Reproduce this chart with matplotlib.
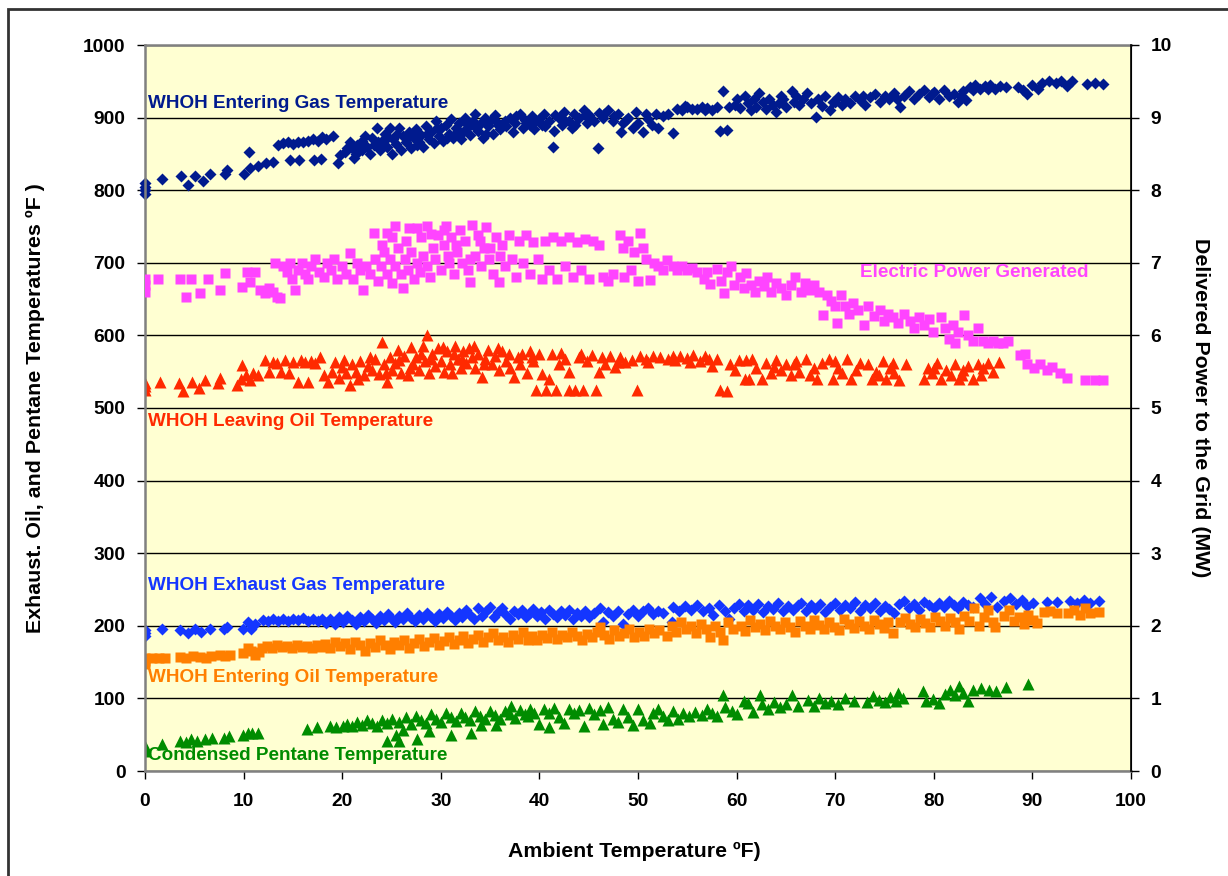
import matplotlib
matplotlib.use("Agg")
import matplotlib.pyplot as plt
from matplotlib.patches import Rectangle

plt.rcParams['font.family'] = ['Liberation Sans', 'DejaVu Sans']
plt.rcParams['font.weight'] = 'bold'

# WHOH entering gas temperature (F)
gas_x = [0, 0, 0, 0, 1.7, 3.7, 4.4, 5.1, 5.9, 6.6, 8.1, 8.3, 10.0, 10.5, 10.6, 11.5, 12.3, 13.0,
         13.5, 14.0, 14.5, 15.0, 15.5, 16.0, 16.5, 17.0, 17.5, 18.0, 18.4, 14.7, 15.6, 17.1, 17.9,
         19.1, 19.6, 19.8, 20.3, 20.8, 21.4, 21.0, 21.5, 22.0, 22.0, 22.5, 22.8, 23.0, 23.2, 23.5,
         23.8, 24.0, 24.3, 24.5, 24.8, 25.0, 25.2, 25.5, 25.8, 26.0, 26.2, 26.5, 26.8, 27.0, 27.3,
         27.5, 27.8, 28.0, 28.2, 28.5, 28.8, 29.0, 29.3, 29.5, 29.8, 30.0, 30.2, 30.5, 30.8, 31.0,
         31.2, 31.5, 31.8, 32.0, 32.3, 32.5, 32.8, 33.0, 33.3, 33.5, 33.8, 34.0, 34.3, 34.5, 34.8,
         35.0, 35.3, 35.5, 35.8, 36.0, 36.5, 37.0, 37.3, 37.5, 38.0, 38.3, 38.5, 39.0, 39.3, 39.5,
         40.0, 40.3, 40.5, 41.0, 41.4, 41.5, 42.0, 42.3, 42.5, 43.0, 43.3, 43.5, 44.0, 44.5, 44.8,
         45.0, 45.5, 45.9, 46.0, 46.5, 47.0, 47.5, 48.0, 48.3, 48.5, 49.0, 49.5, 49.8, 50.0, 50.5,
         51.0, 51.4, 51.8, 52.5, 53.0, 53.6, 54.0, 54.5, 55.0, 55.5, 56.0, 56.5, 57.0, 57.5, 58.0,
         58.3, 58.6, 59.0, 59.2, 59.8, 60.3, 60.9, 61.2, 61.5, 61.8, 62.0, 62.3, 62.7, 63.0, 63.3,
         63.7, 64.0, 64.3, 64.7, 65.0, 65.6, 65.8, 66.3, 66.7, 67.1, 67.5, 68.1, 68.3, 68.7, 69.0,
         69.5, 69.8, 70.3, 70.7, 71.0, 71.5, 72.0, 72.5, 73.0, 73.5, 74.0, 74.5, 75.0, 75.5, 76.0,
         76.6, 77.0, 77.5, 78.0, 78.5, 79.0, 79.5, 80.0, 80.5, 81.0, 81.5, 82.0, 82.5, 83.0, 83.3,
         83.7, 84.2, 84.7, 85.2, 85.7, 86.2, 86.7, 87.3, 88.5, 89.0, 89.5, 90.0, 90.6, 91.0, 91.7,
         92.4, 92.9, 93.5, 94.0, 95.5, 96.3, 97.2,
         20.5, 21.2, 22.3, 23.6, 24.6, 25.6, 26.6, 27.6, 28.6, 29.6, 30.6, 31.6, 32.6, 33.6, 34.6,
         35.6, 36.6, 37.6, 38.6, 39.6, 40.6, 41.6, 42.6, 43.6, 44.6, 46.6, 47.6, 48.8, 50.8, 52.0,
         54.8, 56.8, 60.0, 64.5, 66.0, 70.0, 72.8, 76.3, 79.8, 82.8, 84.0, 85.5]
gas_y = [795, 800, 805, 810, 815, 819, 807, 820, 812, 822, 823, 828, 823, 853, 830, 833, 837, 839,
         862, 865, 866, 864, 867, 866, 868, 870, 868, 873, 870, 842, 841, 842, 843,
         874, 838, 848, 852, 866, 850, 858, 862, 855, 868, 860, 850, 872, 862, 885,
         856, 868, 877, 860, 885, 850, 870, 864, 886, 855, 875, 866, 880, 858, 872,
         884, 866, 876, 860, 888, 870, 880, 865, 895, 875, 885, 868, 890, 878, 898,
         872, 885, 893, 870, 880, 900, 887, 876, 895, 905, 882, 891, 872, 900, 888,
         896, 878, 903, 890, 884, 895, 900, 880, 893, 905, 886, 897, 890, 902, 884,
         898, 890, 905, 895, 860, 882, 900, 890, 908, 896, 885, 905, 900, 910, 892,
         903, 896, 858, 906, 900, 910, 895, 905, 880, 892, 900, 885, 908, 893, 880,
         898, 890, 905, 902, 905, 879, 912, 910, 914, 912, 912, 915, 913, 910, 914,
         881, 936, 883, 915, 918, 913, 930, 920, 910, 926, 915, 934, 922, 912, 925,
         918, 908, 920, 925, 915, 936, 922, 918, 925, 934, 920, 901, 925, 916, 930,
         911, 922, 928, 918, 926, 920, 930, 924, 918, 928, 932, 922, 930, 925, 934,
         915, 930, 936, 925, 932, 938, 928, 935, 926, 938, 930, 933, 922, 936, 924,
         942, 945, 940, 943, 945, 940, 944, 942, 942, 938, 932, 945, 940, 948, 950,
         948, 950, 944, 950, 946, 947, 946,
         858, 845, 874, 866, 873, 878, 870, 862, 878, 885, 872, 880, 892, 886, 878,
         895, 888, 902, 893, 895, 888, 903, 895, 890, 904, 905, 902, 897, 905, 885,
         916, 910, 925, 930, 930, 922, 930, 925, 932, 930, 938, 940]

# electric power generated (MW, right axis)
pow_x = [0, 0, 0, 1.35, 3.55, 4.2, 4.7, 5.6, 6.4, 7.6, 8.1, 9.8, 10.3, 10.6, 11.2, 11.7, 12.2, 12.6,
         13.0, 13.4, 13.7, 13.2, 14.0, 14.4, 14.7, 14.9, 15.2, 15.5, 15.9, 16.2, 16.5, 16.8, 17.2,
         17.6, 18.2, 18.5, 18.9, 19.2, 19.5, 20.0, 20.4, 20.8, 21.1, 21.5, 21.8, 22.1, 22.4, 22.8,
         23.2, 23.3, 23.6, 23.9, 24.2, 24.5, 24.5, 24.8, 25.1, 25.4, 25.4, 25.7, 26.0, 26.2, 26.4,
         26.7, 27.0, 27.3, 27.6, 27.6, 27.9, 28.2, 28.6, 28.6, 28.9, 29.2, 29.4, 29.7, 30.0, 30.3,
         30.5, 30.8, 31.0, 31.3, 31.6, 31.9, 32.2, 32.5, 32.8, 33.0, 33.2, 33.5, 33.8, 34.1, 34.4,
         34.6, 34.9, 35.3, 35.6, 35.9, 36.2, 36.5, 36.9, 37.2, 37.6, 37.9, 38.3, 38.6, 39.0, 39.4,
         39.9, 40.3, 40.6, 41.0, 41.4, 41.8, 42.2, 42.6, 43.0, 43.4, 43.8, 44.2, 44.6, 45.0, 45.4,
         46.0, 46.5, 47.0, 47.5, 48.2, 48.5, 48.6, 49.0, 49.3, 49.6, 50.0, 50.2, 50.5, 50.8, 51.2,
         51.6, 52.0, 52.5, 52.9, 53.5, 54.0, 54.5, 55.0, 55.5, 56.0, 56.7, 57.0, 57.3, 58.0, 58.4,
         58.7, 59.0, 59.4, 59.7, 60.3, 60.7, 61.0, 61.5, 61.9, 62.3, 62.8, 63.1, 63.5, 64.0, 64.5,
         65.0, 65.5, 65.9, 66.5, 66.9, 67.4, 67.9, 68.4, 68.8, 69.2, 69.6, 70.0, 70.2, 70.6, 71.0,
         71.4, 71.8, 72.3, 72.9, 73.3, 73.9, 74.5, 74.9, 75.4, 75.9, 76.4, 77.0, 77.6, 78.0, 78.5,
         79.0, 79.5, 79.9, 80.7, 81.1, 81.5, 81.9, 82.2, 82.5, 83.1, 83.5, 84.0, 84.5, 85.0, 85.5,
         86.0, 86.5, 87.0, 87.5, 88.7, 89.3, 89.5, 90.2, 90.8, 91.5, 92.0, 92.8, 93.5, 95.3, 96.3,
         97.2, 24.0, 25.0, 26.5, 28.0, 29.0, 30.7, 31.5, 33.0, 34.0, 35.0, 36.0, 26.8, 30.3]
pow_y = [6.6, 6.7, 6.78, 6.77, 6.77, 6.53, 6.77, 6.58, 6.77, 6.63, 6.86, 6.67, 6.88, 6.74, 6.88, 6.62, 6.58, 6.65,
         6.6, 6.53, 6.52, 7.0, 6.95, 6.88, 7.0, 6.77, 6.63, 6.9, 7.0, 6.85, 6.77, 6.95, 7.05,
         6.88, 6.8, 7.0, 6.9, 7.05, 6.77, 6.95, 6.85, 7.14, 6.78, 7.0, 6.9, 6.62, 6.95, 6.85,
         7.41, 7.05, 6.75, 6.95, 7.15, 7.41, 6.85, 7.05, 6.72, 7.51, 6.95, 7.2, 6.85, 6.65, 7.05,
         6.9, 7.15, 6.78, 7.48, 7.0, 6.88, 7.1, 7.51, 6.95, 6.8, 7.2, 7.05, 7.38, 6.9, 7.25,
         7.5, 7.0, 7.35, 6.85, 7.15, 7.45, 7.0, 7.3, 6.9, 6.74, 7.52, 7.1, 7.38, 6.95, 7.2,
         7.49, 7.05, 6.85, 7.35, 6.74, 7.25, 6.95, 7.38, 7.05, 6.8, 7.3, 7.0, 7.38, 6.85, 7.28,
         7.05, 6.78, 7.3, 6.9, 7.35, 6.78, 7.3, 6.95, 7.35, 6.8, 7.28, 6.9, 7.33, 6.78, 7.3,
         7.25, 6.8, 6.75, 6.85, 7.38, 7.2, 6.8, 7.3, 6.9, 7.15, 6.75, 7.41, 7.2, 7.05, 6.76,
         7.0, 6.95, 6.9, 7.04, 6.95, 6.9, 6.95, 6.9, 6.93, 6.88, 6.77, 6.88, 6.71, 6.92, 6.75,
         6.58, 6.88, 6.95, 6.7, 6.8, 6.65, 6.86, 6.7, 6.6, 6.75, 6.68, 6.8, 6.6, 6.72, 6.65,
         6.55, 6.7, 6.8, 6.6, 6.72, 6.62, 6.7, 6.6, 6.28, 6.55, 6.48, 6.4, 6.17, 6.55, 6.4,
         6.3, 6.45, 6.35, 6.14, 6.4, 6.27, 6.35, 6.2, 6.3, 6.25, 6.17, 6.3, 6.2, 6.1, 6.25,
         6.15, 6.22, 6.04, 6.25, 6.1, 5.95, 6.15, 5.9, 6.05, 6.28, 6.0, 5.92, 6.1, 5.92, 5.9,
         5.92, 5.9, 5.9, 5.92, 5.73, 5.75, 5.6, 5.55, 5.6, 5.52, 5.56, 5.48, 5.42, 5.38, 5.38,
         5.38, 7.25, 7.35, 7.3, 7.35, 7.4, 7.1, 7.25, 7.05, 7.3, 7.2, 7.1, 7.48, 7.45]

# WHOH leaving oil temperature (F)
loil_x = [0, 0, 0, 1.5, 3.4, 3.9, 4.8, 5.5, 6.1, 7.4, 7.6, 9.3, 9.8, 9.7, 10.2, 10.6, 11.0, 11.5,
          12.2, 12.6, 13.0, 13.4, 13.8, 14.2, 14.6, 15.0, 15.5, 15.8, 16.2, 16.5, 16.8, 17.2, 17.7,
          18.2, 18.6, 19.0, 19.3, 19.7, 20.0, 20.4, 20.8, 21.0, 21.4, 21.8, 22.2, 22.6, 23.0, 23.3,
          23.7, 24.0, 24.2, 24.5, 24.8, 25.1, 25.4, 25.7, 26.0, 26.3, 26.7, 27.0, 27.2, 27.5, 27.8,
          28.2, 28.4, 28.6, 28.8, 29.1, 29.4, 29.7, 30.0, 30.3, 30.6, 30.9, 31.1, 31.4, 31.7, 32.0,
          32.3, 32.6, 32.9, 33.2, 33.5, 33.8, 34.2, 34.5, 34.8, 35.2, 35.5, 35.9, 36.2, 36.6, 37.0,
          37.4, 37.8, 38.2, 38.7, 39.0, 39.4, 39.7, 40.0, 40.3, 40.7, 41.0, 41.3, 41.7, 42.2, 42.6,
          43.0, 43.0, 43.6, 44.0, 44.4, 44.8, 45.3, 45.7, 46.0, 46.7, 47.2, 47.7, 48.2, 48.7, 49.4,
          49.9, 50.2, 50.8, 51.5, 52.2, 53.0, 53.5, 54.3, 55.0, 55.6, 56.3, 56.8, 57.5, 58.0, 58.3,
          59.0, 59.3, 59.8, 60.2, 60.9, 61.3, 61.6, 62.0, 62.6, 63.0, 63.5, 64.0, 64.5, 65.0, 65.5,
          66.0, 66.3, 67.0, 67.4, 67.8, 68.2, 68.7, 69.4, 69.8, 70.3, 70.7, 71.2, 71.6, 72.1, 73.3,
          73.7, 74.1, 74.8, 75.2, 75.6, 76.0, 76.5, 77.2, 79.0, 79.4, 79.8, 80.3, 80.7, 81.2, 81.7,
          82.2, 82.6, 83.0, 83.5, 84.0, 84.5, 84.8, 85.5, 86.0, 86.6,
          20.2, 21.6, 22.8, 24.4, 25.8, 26.9, 28.0, 29.0, 30.2, 31.3, 32.2, 33.4, 34.4, 35.8, 36.9,
          38.0, 39.2, 42.0, 44.2, 46.3, 48.0, 51.0, 53.8, 55.3, 57.2, 61.0, 63.8, 65.8, 70.0, 72.5,
          74.4, 75.9, 80.0, 82.9, 85.0]
loil_y = [525, 530, 535, 536, 535, 524, 536, 527, 539, 534, 541, 532, 559, 540, 545, 538, 548, 546,
          566, 550, 563, 562, 550, 566, 548, 564, 536, 566, 563, 536, 565, 562, 570,
          545, 536, 550, 563, 541, 556, 548, 532, 560, 550, 565, 545, 558, 552, 567,
          547, 591, 560, 536, 570, 552, 562, 580, 548, 572, 545, 584, 560, 570, 552,
          586, 565, 600, 548, 575, 558, 582, 565, 550, 578, 560, 548, 585, 568, 555,
          578, 562, 582, 570, 555, 575, 543, 568, 580, 560, 572, 552, 578, 565, 555,
          543, 570, 575, 548, 578, 565, 525, 575, 547, 525, 540, 574, 525, 576, 568,
          549, 525, 525, 570, 525, 565, 573, 525, 549, 560, 572, 557, 570, 563, 566,
          525, 572, 568, 572, 570, 568, 572, 571, 569, 573, 565, 572, 558, 568, 525,
          523, 560, 552, 566, 540, 540, 568, 555, 540, 562, 548, 566, 552, 560, 545,
          565, 550, 568, 545, 555, 540, 562, 567, 540, 555, 548, 568, 540, 552, 560,
          540, 550, 565, 540, 555, 548, 538, 560, 540, 555, 548, 562, 540, 552, 545,
          560, 540, 552, 558, 540, 560, 545, 562, 550, 563,
          566, 540, 570, 548, 566, 555, 575, 568, 584, 575, 568, 585, 560, 583, 575,
          560, 570, 560, 575, 570, 563, 563, 566, 563, 568, 566, 556, 560, 565, 562,
          545, 562, 555, 545, 555]

# WHOH exhaust gas temperature (F)
exh_x = [0, 0, 0, 1.7, 3.6, 4.4, 5.1, 5.7, 6.6, 8.0, 8.3, 9.9, 10.4, 10.7, 11.2,
         12.0, 12.5, 13.0, 13.5, 14.0, 14.5, 15.0, 15.5, 16.0, 16.5, 17.0, 17.5, 18.0, 18.4, 18.8,
         19.3, 19.7, 20.1, 20.5, 21.0, 21.4, 21.8, 22.2, 22.6, 23.0, 23.4, 23.8, 24.2, 24.6, 25.0,
         25.4, 25.8, 26.2, 26.6, 27.0, 27.4, 27.8, 28.2, 28.6, 29.0, 29.4, 29.8, 30.2, 30.6, 31.0,
         31.4, 31.8, 32.2, 32.6, 33.0, 33.4, 33.8, 34.2, 34.6, 35.0, 35.4, 35.8, 36.2, 36.6, 37.0,
         37.4, 37.8, 38.2, 38.6, 39.0, 39.4, 39.8, 40.2, 40.6, 41.0, 41.4, 41.8, 42.2, 42.6, 43.0,
         43.4, 43.8, 44.2, 44.6, 45.0, 45.5, 46.1, 46.5, 47.0, 47.5, 48.0, 48.5, 49.0, 49.5, 50.0,
         50.5, 51.0, 51.5, 52.0, 52.5, 53.4, 53.6, 54.2, 54.8, 55.4, 56.0, 56.6, 57.2, 57.6, 58.2,
         58.8, 59.2, 59.7, 60.2, 60.7, 61.2, 61.7, 62.2, 62.7, 63.2, 63.7, 64.2, 64.7, 65.2, 65.7,
         66.2, 66.5, 67.0, 67.5, 68.0, 68.5, 69.0, 69.5, 70.0, 70.5, 71.0, 71.5, 72.0, 72.5, 73.0,
         73.5, 74.0, 74.5, 75.0, 75.5, 76.0, 76.5, 77.0, 77.5, 78.0, 78.5, 79.0, 79.5, 80.0, 80.5,
         81.0, 81.5, 82.0, 82.5, 83.0, 83.5, 84.0, 84.7, 85.2, 85.8, 86.4, 87.1, 87.7, 88.3, 88.9,
         89.5, 90.1, 91.5, 92.5, 93.8, 94.5, 95.2, 95.8, 96.8]
exh_y = [186, 190, 194, 195, 194, 190, 196, 192, 196, 196, 199, 196, 205, 196, 203,
         208, 206, 210, 207, 209, 206, 210, 208, 211, 207, 209, 206, 210, 204, 209,
         203, 212, 205, 214, 208, 203, 212, 206, 215, 209, 204, 213, 208, 216, 210,
         205, 214, 209, 217, 211, 206, 215, 210, 218, 212, 207, 216, 211, 219, 213,
         208, 218, 212, 222, 215, 209, 225, 214, 220, 226, 212, 219, 224, 215, 210,
         220, 216, 222, 212, 218, 223, 214, 219, 210, 222, 216, 212, 220, 215, 222,
         210, 218, 214, 221, 212, 218, 224, 205, 219, 213, 221, 203, 216, 222, 214,
         220, 225, 216, 221, 218, 205, 226, 220, 227, 222, 228, 221, 225, 215, 228,
         220, 210, 225, 230, 220, 228, 222, 230, 219, 227, 223, 231, 220, 227, 222,
         228, 232, 220, 228, 223, 230, 219, 226, 232, 222, 228, 224, 233, 221, 229,
         225, 231, 220, 227, 223, 218, 230, 234, 225, 230, 222, 233, 228, 224, 232,
         226, 234, 228, 224, 233, 228, 226, 238, 230, 240, 226, 234, 238, 230, 236,
         227, 232, 233, 233, 234, 232, 235, 231, 234]

# WHOH entering oil temperature (F)
eoil_x = [0, 0, 0, 0.7, 1.4, 2.0, 3.5, 4.2, 4.9, 5.6, 6.2, 6.7, 7.6, 8.1, 8.6, 9.9, 10.4, 10.8,
          11.2, 11.6, 11.9, 12.4, 12.9, 13.4, 13.9, 14.4, 14.9, 15.4, 15.9, 16.4, 16.9, 17.4, 17.9,
          18.3, 18.8, 19.3, 19.8, 20.3, 20.8, 21.3, 21.8, 22.3, 22.8, 23.3, 23.8, 24.3, 24.8, 25.3,
          25.8, 26.3, 26.8, 27.3, 27.8, 28.3, 28.8, 29.3, 29.8, 30.3, 30.8, 31.3, 31.8, 32.3, 32.8,
          33.3, 33.8, 34.3, 34.8, 35.3, 35.8, 36.3, 36.8, 37.3, 37.8, 38.3, 38.8, 39.3, 39.8, 40.3,
          40.8, 41.3, 41.8, 42.3, 42.8, 43.3, 43.8, 44.3, 44.8, 45.3, 45.8, 46.1, 46.6, 47.1, 47.6,
          48.1, 48.6, 49.1, 49.6, 50.1, 50.6, 51.1, 51.6, 52.1, 52.9, 53.4, 53.9, 54.4, 54.9, 55.4,
          55.9, 56.4, 56.9, 57.3, 57.8, 58.3, 58.6, 59.1, 59.6, 60.4, 60.9, 61.4, 61.9, 62.4, 62.9,
          63.4, 63.9, 64.4, 64.9, 65.4, 65.9, 66.4, 66.9, 67.4, 67.9, 68.4, 68.9, 69.4, 69.9, 70.4,
          70.9, 71.4, 71.9, 72.4, 72.9, 73.4, 73.9, 74.4, 74.9, 75.4, 75.9, 76.6, 77.1, 77.6, 78.1,
          78.6, 79.1, 79.6, 80.1, 80.6, 81.1, 81.6, 82.1, 82.6, 83.1, 83.6, 84.1, 84.6, 85.1, 85.5,
          86.0, 86.2, 87.1, 87.6, 88.1, 88.6, 89.1, 89.6, 90.1, 90.5, 91.2, 91.8, 92.5, 93.6, 94.2,
          94.8, 95.3, 95.8, 96.8]
eoil_y = [148, 152, 156, 155, 155, 155, 157, 156, 158, 157, 155, 158, 160, 158, 160, 162, 169, 165,
          160, 164, 170, 172, 170, 173, 171, 172, 170, 173, 171, 172, 170, 173, 171,
          175, 170, 177, 172, 176, 168, 178, 173, 165, 176, 171, 180, 174, 168, 178,
          173, 181, 170, 176, 182, 172, 178, 183, 174, 179, 185, 175, 181, 186, 176,
          182, 188, 178, 184, 190, 180, 185, 178, 187, 182, 191, 181, 186, 180, 188,
          183, 192, 182, 188, 184, 191, 186, 181, 189, 184, 192, 199, 188, 182, 194,
          186, 190, 196, 184, 192, 186, 196, 190, 194, 186, 200, 192, 205, 195, 200,
          190, 203, 196, 184, 200, 192, 181, 205, 196, 200, 193, 208, 198, 203, 194,
          207, 200, 195, 205, 198, 192, 206, 200, 195, 208, 201, 196, 205, 199, 194,
          209, 202, 197, 206, 200, 196, 208, 202, 197, 205, 190, 205, 211, 203, 198,
          210, 204, 199, 212, 206, 200, 211, 205, 196, 214, 206, 224, 200, 212, 222,
          205, 198, 214, 222, 206, 212, 203, 215, 208, 204, 219, 221, 218, 218, 222,
          215, 224, 218, 219]

# condensed pentane temperature (F)
pent_x = [0, 0, 0, 1.7, 3.6, 4.2, 4.7, 5.3, 6.1, 6.8, 8.0, 8.5, 9.9, 10.4, 10.9, 11.5,
          16.4, 17.4, 18.8, 19.4, 20.1, 20.5, 21.0, 21.5, 22.0, 22.5, 23.0, 23.5, 24.0, 24.5, 24.5,
          25.0, 25.5, 25.8, 25.8, 26.2, 26.5, 27.0, 27.6, 27.5, 28.0, 28.5, 28.8, 29.0, 29.5, 30.0,
          30.5, 31.0, 31.0, 31.5, 32.0, 32.5, 33.0, 33.1, 33.5, 34.0, 34.1, 34.5, 35.0, 35.6, 35.5,
          36.0, 36.5, 37.0, 37.1, 37.5, 38.0, 38.5, 38.8, 39.0, 39.5, 40.0, 40.5, 41.0, 41.0, 41.5,
          42.0, 42.5, 43.0, 43.5, 44.0, 44.5, 45.0, 45.5, 46.1, 46.5, 47.0, 47.5, 48.0, 48.5, 49.0,
          49.5, 50.0, 50.5, 51.2, 51.5, 52.0, 52.5, 53.0, 53.5, 54.1, 54.6, 55.2, 55.8, 56.5, 57.0,
          57.5, 58.0, 58.6, 58.8, 59.5, 60.0, 60.7, 61.2, 61.7, 62.4, 62.6, 63.2, 63.8, 64.4, 65.0,
          65.6, 66.2, 67.2, 67.8, 68.4, 69.0, 69.6, 70.3, 71.0, 71.9, 73.2, 73.8, 74.4, 75.0, 75.6,
          76.2, 76.4, 76.9, 78.9, 79.2, 79.9, 80.5, 81.1, 81.6, 82.1, 82.6, 83.0, 83.5, 84.0, 84.8,
          85.6, 86.3, 87.3, 89.6]
pent_y = [28, 31, 35, 37, 42, 40, 44, 42, 44, 45, 46, 48, 50, 52, 53, 52,
          58, 60, 62, 61, 62, 65, 62, 68, 64, 70, 66, 62, 70, 41, 66,
          72, 50, 41, 68, 56, 74, 65, 44, 76, 70, 66, 55, 78, 72, 67,
          80, 49, 74, 69, 80, 75, 70, 53, 82, 76, 64, 71, 82, 64, 77,
          72, 83, 78, 90, 73, 84, 78, 76, 86, 80, 65, 86, 60, 80, 87,
          75, 66, 86, 80, 84, 62, 87, 78, 84, 65, 88, 72, 68, 86, 75,
          63, 85, 70, 66, 80, 86, 76, 70, 83, 72, 80, 76, 81, 77, 86,
          80, 76, 104, 88, 82, 78, 96, 94, 81, 105, 92, 86, 95, 88, 92,
          104, 90, 98, 90, 101, 94, 97, 92, 100, 96, 95, 103, 98, 95, 102,
          96, 108, 100, 110, 96, 99, 94, 106, 112, 104, 117, 108, 96, 112, 114,
          112, 110, 116, 120]

navy = '#001A8E'
pink = '#FF44FF'
red = '#FF2A00'
blue = '#1436FF'
orange = '#FF7F00'
green = '#008C00'

fig = plt.figure(figsize=(12.28, 8.76), dpi=100)
ax = fig.add_axes([145 / 1228, 1 - 771 / 876, 986 / 1228, 726 / 876])
ax.set_facecolor('#FFFFD2')
ax2 = ax.twinx()

ax.plot(gas_x, gas_y, 'D', ms=6.2, color=navy, mec='none', clip_on=False)
ax.plot(loil_x, loil_y, '^', ms=8, color=red, mec='none')
ax.plot(exh_x, exh_y, 'D', ms=6.2, color=blue, mec='none')
ax.plot(eoil_x, eoil_y, 's', ms=6.5, color=orange, mec='none')
ax.plot(pent_x, pent_y, '^', ms=8, color=green, mec='none')
ax2.plot(pow_x, pow_y, 's', ms=7, color=pink, mec='none')

ax.set_xlim(0, 100)
ax.set_ylim(0, 1000)
ax2.set_ylim(0, 10)
ax.set_xticks(range(0, 101, 10))
ax.set_yticks(range(0, 1001, 100))
ax2.set_yticks(range(0, 11))
ax.yaxis.grid(True, color='black', lw=1)
ax.set_axisbelow(True)

for s in ['left', 'bottom', 'top']:
    ax.spines[s].set_color('#808080')
    ax.spines[s].set_linewidth(1.8)
ax2.spines['right'].set_color('black')
ax2.spines['right'].set_linewidth(1.2)
for s in ['left', 'bottom', 'top']:
    ax2.spines[s].set_visible(False)

ax.tick_params(axis='both', labelsize=13.8, length=6, width=1, pad=8)
ax.tick_params(axis='x', pad=10)
ax2.tick_params(axis='y', labelsize=13.8, length=6, width=1, pad=8)

ax.set_xlabel('Ambient Temperature ºF)', fontsize=15.3, fontweight='bold')
ax.set_ylabel('Exhaust. Oil, and Pentane Temperatures ºF )', fontsize=15.4, fontweight='bold')
ax2.set_ylabel('Delivered Power to the Grid (MW)', fontsize=15.4, fontweight='bold',
               rotation=270, va='center')
ax.xaxis.set_label_coords(0.496, -0.098)
ax.yaxis.set_label_coords(-0.101, 0.5)
ax2.yaxis.set_label_coords(1.07, 0.5)

# series labels inside the plot
lab = 13.6
ax.text(0.3, 920, 'WHOH Entering Gas Temperature', color=navy, fontsize=lab, va='center')
ax.text(72.5, 686, 'Electric Power Generated', color=pink, fontsize=lab, va='center')
ax.text(0.3, 482, 'WHOH Leaving Oil Temperature', color=red, fontsize=lab, va='center')
ax.text(0.3, 256, 'WHOH Exhaust Gas Temperature', color=blue, fontsize=lab, va='center')
ax.text(0.3, 129, 'WHOH Entering Oil Temperature', color=orange, fontsize=lab, va='center')
ax.text(0.3, 22, 'Condensed Pentane Temperature', color=green, fontsize=lab, va='center')

# outer chart border
fig.patches.append(Rectangle((8 / 1228, -0.05), 1.2, 1.05 - 9 / 876, transform=fig.transFigure,
                             fill=False, edgecolor='#333333', lw=2))

fig.savefig('out.png', dpi=100)
